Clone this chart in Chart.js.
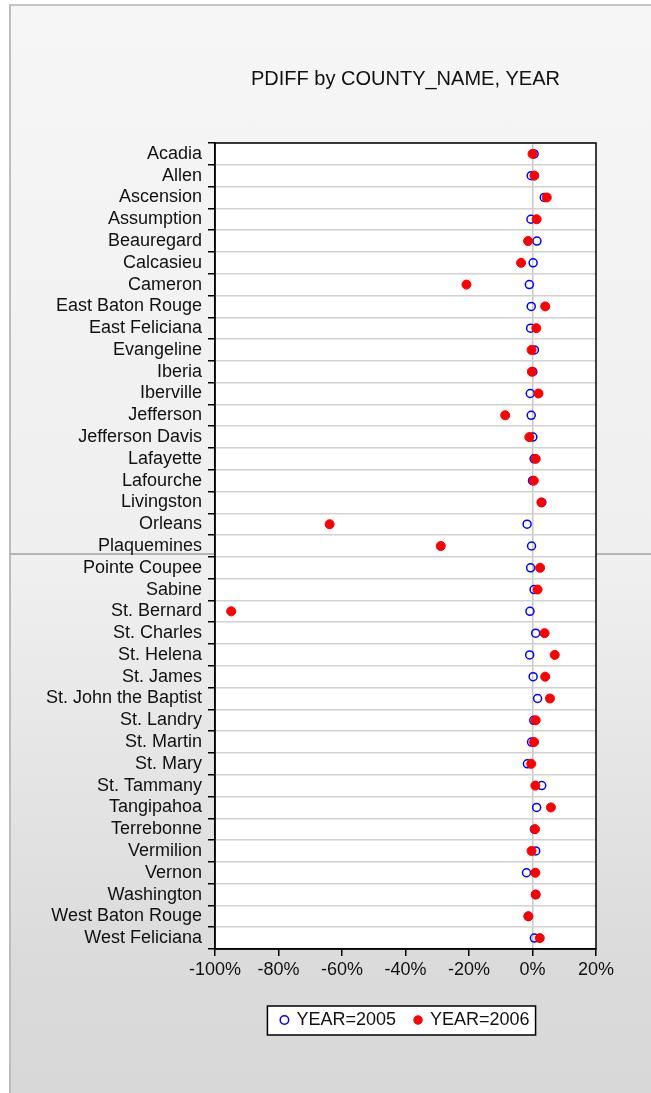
<!DOCTYPE html>
<html>
<head>
<meta charset="utf-8">
<title>PDIFF by COUNTY_NAME, YEAR</title>
<script src="https://cdn.jsdelivr.net/npm/chart.js@4.4.1/dist/chart.umd.min.js"></script>
<style>
    html, body { margin: 0; padding: 0; background: #fff; }
    #wrap { position: relative; width: 651px; height: 1093px; overflow: hidden; }
    #panelTop {
        position: absolute; left: 9px; top: 4px; width: 642px; height: 549px;
        border-left: 2px solid #bdbdbd; border-top: 2px solid #c4c4c4; box-sizing: border-box;
        background: linear-gradient(#f6f6f6, #efefef);
    }
    #panelBottom {
        position: absolute; left: 9px; top: 553px; width: 642px; height: 540px;
        border-left: 2px solid #bdbdbd; border-top: 2px solid #b4b4b4; box-sizing: border-box;
        background: linear-gradient(#f0f0f0, #dbdbdb 75%, #d8d8d8);
    }
    canvas { position: absolute; left: 0; top: 0; }
</style>
</head>
<body>
<div id="wrap">
    <div id="panelTop"></div>
    <div id="panelBottom"></div>
    <canvas id="dotChart" width="651" height="1093"></canvas>
</div>
<script>
    // county names, top to bottom
    var counties = ['Acadia', 'Allen', 'Ascension', 'Assumption', 'Beauregard', 'Calcasieu', 'Cameron',
        'East Baton Rouge', 'East Feliciana', 'Evangeline', 'Iberia', 'Iberville', 'Jefferson',
        'Jefferson Davis', 'Lafayette', 'Lafourche', 'Livingston', 'Orleans', 'Plaquemines',
        'Pointe Coupee', 'Sabine', 'St. Bernard', 'St. Charles', 'St. Helena', 'St. James',
        'St. John the Baptist', 'St. Landry', 'St. Martin', 'St. Mary', 'St. Tammany', 'Tangipahoa',
        'Terrebonne', 'Vermilion', 'Vernon', 'Washington', 'West Baton Rouge', 'West Feliciana'];

    // PDIFF in percent
    var pdiff2005 = [0.5, -0.4, 3.7, -0.5, 1.4, 0.2, -1.0, -0.4, -0.6, 0.6, 0.1, -0.7, -0.4,
        0.1, 0.5, 0.0, 2.9, -1.7, -0.3, -0.6, 0.5, -0.8, 1.0, -0.9, 0.2,
        1.6, 0.4, -0.3, -1.6, 2.9, 1.3, 0.6, 1.0, -1.9, 1.0, -1.3, 0.6];
    var pdiff2006 = [0.0, 0.6, 4.5, 1.3, -1.4, -3.6, -20.8, 4.0, 1.2, -0.3, -0.2, 1.9, -8.6,
        -1.0, 1.0, 0.4, 2.8, -63.9, -28.9, 2.4, 1.6, -94.9, 3.8, 7.0, 4.0,
        5.5, 1.0, 0.5, -0.4, 0.9, 5.8, 0.8, -0.3, 0.9, 1.0, -1.3, 2.3];

    var xTicks = [-100, -80, -60, -40, -20, 0, 20];

    function toPoints(values) {
        return counties.map(function (c, i) {
            return { x: values[i], y: c };
        });
    }

    // white plot area + black frame + bordered legend box
    var framePlugin = {
        id: 'frame',
        beforeDraw: function (chart) {
            var ctx = chart.ctx;
            var a = chart.chartArea;
            ctx.save();
            ctx.fillStyle = '#fff';
            ctx.fillRect(a.left, a.top, a.right - a.left, a.bottom - a.top);

            var boxes = chart.legend.legendHitBoxes;
            if (boxes && boxes.length) {
                var l = Infinity, r = -Infinity, t = Infinity, b = -Infinity;
                boxes.forEach(function (h) {
                    l = Math.min(l, h.left);
                    r = Math.max(r, h.left + h.width);
                    t = Math.min(t, h.top);
                    b = Math.max(b, h.top + h.height);
                });
                l -= 14; r += 6; t -= 5; b += 6;
                ctx.fillStyle = '#fff';
                ctx.fillRect(l, t, r - l, b - t);
                ctx.strokeStyle = '#000';
                ctx.lineWidth = 1.5;
                ctx.strokeRect(l, t, r - l, b - t);
            }
            ctx.restore();
        },
        afterDraw: function (chart) {
            var ctx = chart.ctx;
            var a = chart.chartArea;
            ctx.save();
            ctx.strokeStyle = '#000';
            ctx.lineWidth = 1.5;
            ctx.strokeRect(a.left, a.top, a.right - a.left, a.bottom - a.top);
            ctx.restore();
        }
    };

    Chart.defaults.font.family = '"Liberation Sans", Arial, sans-serif';
    Chart.defaults.color = '#111';

    var ctx = document.getElementById('dotChart').getContext('2d');
    var dotChart = new Chart(ctx, {
        type: 'scatter',
        data: {
            datasets: [
                {
                    label: 'YEAR=2005',
                    data: toPoints(pdiff2005),
                    pointStyle: 'circle',
                    pointRadius: 4,
                    pointBorderWidth: 1.5,
                    borderColor: '#0000ff',
                    backgroundColor: 'rgba(0,0,0,0)',
                    order: 1
                },
                {
                    label: 'YEAR=2006',
                    data: toPoints(pdiff2006),
                    pointStyle: 'circle',
                    pointRadius: 4.5,
                    pointBorderWidth: 1,
                    borderColor: '#ff0000',
                    backgroundColor: '#ff0000',
                    order: 0
                }
            ]
        },
        options: {
            responsive: false,
            animation: false,
            devicePixelRatio: 1,
            layout: {
                padding: { left: 30, right: 55, top: 0, bottom: 54 }
            },
            plugins: {
                title: {
                    display: true,
                    fullSize: false,
                    text: 'PDIFF by COUNTY_NAME, YEAR',
                    color: '#111',
                    font: { size: 20, weight: 'normal' },
                    padding: { top: 67, bottom: 52 }
                },
                legend: {
                    position: 'bottom',
                    fullSize: false,
                    labels: {
                        usePointStyle: true,
                        boxWidth: 6,
                        boxHeight: 6,
                        padding: 19,
                        color: '#111',
                        font: { size: 18 },
                        sort: function (a, b) { return a.datasetIndex - b.datasetIndex; }
                    }
                },
                tooltip: { enabled: false }
            },
            scales: {
                x: {
                    type: 'linear',
                    min: -100,
                    max: 20,
                    afterBuildTicks: function (scale) {
                        scale.ticks = xTicks.map(function (v) { return { value: v }; });
                    },
                    afterFit: function (scale) {
                        scale.height = 43;
                        scale.paddingLeft = 0;
                        scale.paddingRight = 0;
                    },
                    ticks: {
                        callback: function (v) { return v + '%'; },
                        font: { size: 18 },
                        color: '#111',
                        padding: 3,
                        maxRotation: 0
                    },
                    grid: {
                        color: function (c) {
                            return c.tick && c.tick.value === 0 ? '#c8c8c8' : 'rgba(0,0,0,0)';
                        },
                        lineWidth: 1.5,
                        tickColor: '#000',
                        tickLength: 7
                    },
                    border: { color: '#000', width: 1.5 }
                },
                y: {
                    type: 'category',
                    labels: counties,
                    offset: true,
                    afterFit: function (scale) {
                        scale.width = 185;
                    },
                    ticks: {
                        autoSkip: false,
                        font: { size: 18 },
                        color: '#111',
                        padding: 6
                    },
                    grid: {
                        offset: true,
                        color: '#d2d2d2',
                        lineWidth: 1.5,
                        tickColor: '#000',
                        tickLength: 7
                    },
                    border: { color: '#000', width: 1.5 }
                }
            }
        },
        plugins: [framePlugin]
    });
</script>
</body>
</html>
